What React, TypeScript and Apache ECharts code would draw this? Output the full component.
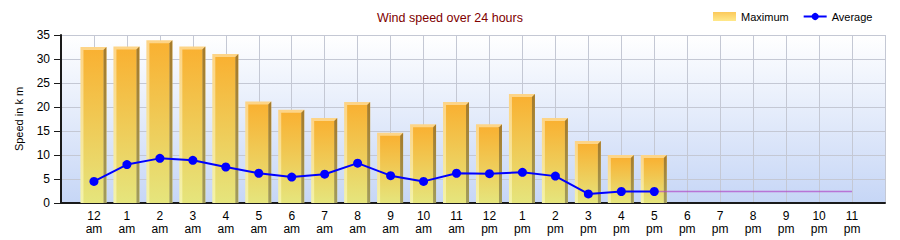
import React, { useEffect, useRef } from "react";
import * as echarts from "echarts";

const hours = [
  "12\nam", "1\nam", "2\nam", "3\nam", "4\nam", "5\nam", "6\nam", "7\nam", "8\nam", "9\nam", "10\nam", "11\nam",
  "12\npm", "1\npm", "2\npm", "3\npm", "4\npm", "5\npm", "6\npm", "7\npm", "8\npm", "9\npm", "10\npm", "11\npm",
];
const maximum = [31.9, 32, 33.3, 32, 30.4, 20.5, 18.8, 17.1, 20.4, 14, 15.8, 20.4, 15.8, 22.1, 17.1, 12.3, 9.4, 9.4];
const average = [4.5, 8.0, 9.3, 8.9, 7.5, 6.2, 5.4, 6.0, 8.3, 5.7, 4.5, 6.2, 6.1, 6.4, 5.6, 1.9, 2.4, 2.4];
const trendStart = 17; // 5 pm
const trend = [2.4, 2.4, 2.4, 2.4, 2.4, 2.4, 2.4];
const yTicks = { min: 0, max: 35, interval: 5 };

const FONT = "'Liberation Sans', Arial, sans-serif";

export default function App() {
  const ref = useRef<HTMLDivElement>(null);
  useEffect(() => {
    document.body.style.margin = "0";
    const chart = echarts.init(ref.current!, null, { renderer: "svg" });
    const LG = echarts.graphic.LinearGradient;
    const axisData = ["", ...hours, ""];
    const front = () => new LG(0, 0, 0, 1, [
      { offset: 0, color: "#F9B132" },
      { offset: 1, color: "#E5E57D" },
    ]);
    const light = () => new LG(0, 0, 0, 1, [
      { offset: 0, color: "#FDD487" },
      { offset: 1, color: "#F3F3AA" },
    ]);
    const side = () => new LG(0, 0, 0, 1, [
      { offset: 0, color: "#A67B2A" },
      { offset: 1, color: "#A19C5C" },
    ]);
    chart.setOption({
      animation: false,
      textStyle: { fontFamily: FONT },
      title: {
        text: "Wind speed over 24 hours",
        left: "center",
        top: 6,
        textStyle: { fontFamily: FONT, fontSize: 12.5, fontWeight: "normal", color: "#800000" },
      },
      legend: {
        left: 713,
        top: 11,
        padding: 0,
        itemWidth: 23,
        itemHeight: 9,
        itemGap: 14,
        textStyle: { fontFamily: FONT, fontSize: 11, color: "#000" },
        data: [
          {
            name: "Maximum",
            icon: "rect",
            itemStyle: {
              color: new LG(0, 0, 0, 1, [
                { offset: 0, color: "#FBC95A" },
                { offset: 1, color: "#FFE88A" },
              ]),
            },
          },
          { name: "Average" },
        ],
      },
      grid: {
        left: 61,
        right: 15,
        top: 35,
        bottom: 37,
        show: true,
        borderWidth: 0,
        backgroundColor: new LG(0, 0, 0, 1, [
          { offset: 0, color: "#FFFFFF" },
          { offset: 1, color: "#C6D6F6" },
        ]),
      },
      xAxis: {
        type: "category",
        data: axisData,
        boundaryGap: false,
        axisLine: { show: true, lineStyle: { color: "#1a1a1a", width: 2 } },
        axisTick: { show: false },
        axisLabel: {
          interval: 0,
          fontSize: 12,
          lineHeight: 13,
          margin: 6,
          color: "#000",
          fontFamily: FONT,
        },
        splitLine: { show: true, lineStyle: { color: "#C4C8D4", width: 1 } },
      },
      yAxis: {
        type: "value",
        min: yTicks.min,
        max: yTicks.max,
        interval: yTicks.interval,
        name: "Speed in k m",
        nameLocation: "middle",
        nameGap: 37,
        nameTextStyle: { fontFamily: FONT, fontSize: 11, color: "#000" },
        axisLine: { show: true, lineStyle: { color: "#1a1a1a", width: 2 } },
        axisTick: { show: true, length: 7, lineStyle: { color: "#1a1a1a" } },
        axisLabel: { fontSize: 12, margin: 11, color: "#000", fontFamily: FONT },
        splitLine: { show: true, lineStyle: { color: "#C4C8D4", width: 1 } },
      },
      series: [
        {
          name: "Maximum",
          type: "custom",
          itemStyle: { color: "#FBC95A" },
          data: maximum.map((v, i) => [i + 1, v]),
          renderItem: (params: any, api: any) => {
            const xv = api.value(0);
            const v = api.value(1);
            const top = api.coord([xv, v]);
            const base = api.coord([xv, 0]);
            const c = top[0];
            const yT = top[1];
            const yB = base[1];
            const x0 = c - 13.5;
            return {
              type: "group",
              children: [
                {
                  type: "rect",
                  shape: { x: x0, y: yT - 3, width: 26, height: yB - yT + 3 },
                  style: { fill: light() },
                },
                {
                  type: "rect",
                  shape: { x: x0 + 3, y: yT, width: 20, height: yB - yT },
                  style: { fill: front() },
                },
                {
                  type: "polygon",
                  shape: {
                    points: [
                      [x0 + 23, yT],
                      [x0 + 26, yT - 3],
                      [x0 + 26, yB],
                      [x0 + 23, yB],
                    ],
                  },
                  style: { fill: side() },
                },
              ],
            };
          },
          z: 2,
        },
        {
          name: "Trend",
          type: "line",
          data: trend.map((v, i) => [i + trendStart + 1, v]),
          symbol: "none",
          itemStyle: { color: "#B048C8" },
          lineStyle: { color: "#B048C8", width: 1.4, opacity: 0.7 },
          z: 3,
        },
        {
          name: "Average",
          type: "line",
          data: average.map((v, i) => [i + 1, v]),
          symbol: "circle",
          symbolSize: 9,
          itemStyle: { color: "#0000FF" },
          lineStyle: { color: "#0000FF", width: 2 },
          z: 4,
        },
      ],
    });
    return () => chart.dispose();
  }, []);
  return <div ref={ref} style={{ width: 900, height: 240 }} />;
}
